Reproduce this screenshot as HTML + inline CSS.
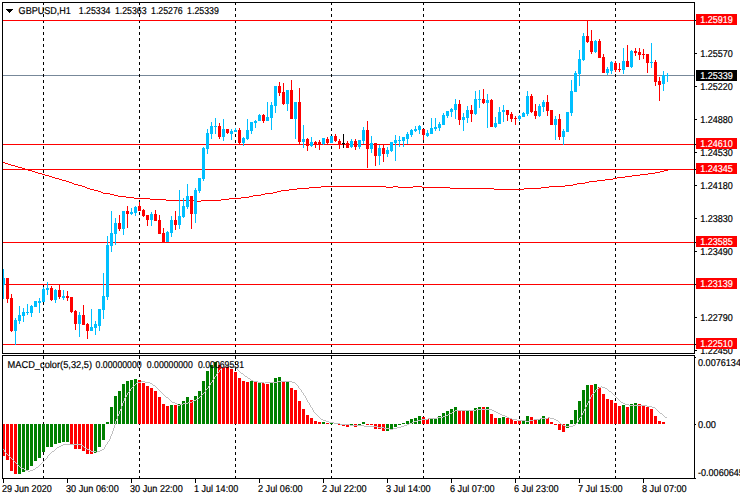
<!DOCTYPE html>
<html><head><meta charset="utf-8"><title>GBPUSD,H1</title>
<style>html,body{margin:0;padding:0;background:#fff;overflow:hidden}svg{display:block}text{font-family:"Liberation Sans",sans-serif;font-size:10px;fill:#000;stroke:#000;stroke-width:0.2px;text-rendering:geometricPrecision}.w{fill:#fff;stroke:#fff}</style>
</head><body>
<svg width="740" height="500" viewBox="0 0 740 500">
<rect x="0" y="0" width="740" height="500" fill="#fff"/>
<g shape-rendering="crispEdges">
<rect x="3" y="75" width="691" height="1" fill="#778899"/>
<line x1="43.5" y1="2" x2="43.5" y2="478" stroke="#000" stroke-width="1" stroke-dasharray="3 3"/>
<line x1="139.5" y1="2" x2="139.5" y2="478" stroke="#000" stroke-width="1" stroke-dasharray="3 3"/>
<line x1="235.5" y1="2" x2="235.5" y2="478" stroke="#000" stroke-width="1" stroke-dasharray="3 3"/>
<line x1="331.5" y1="2" x2="331.5" y2="478" stroke="#000" stroke-width="1" stroke-dasharray="3 3"/>
<line x1="423.5" y1="2" x2="423.5" y2="478" stroke="#000" stroke-width="1" stroke-dasharray="3 3"/>
<line x1="519.5" y1="2" x2="519.5" y2="478" stroke="#000" stroke-width="1" stroke-dasharray="3 3"/>
<line x1="615.5" y1="2" x2="615.5" y2="478" stroke="#000" stroke-width="1" stroke-dasharray="3 3"/>
<rect x="3" y="20" width="691" height="1" fill="#FF0000"/>
<rect x="3" y="144" width="691" height="1" fill="#FF0000"/>
<rect x="3" y="169" width="691" height="1" fill="#FF0000"/>
<rect x="3" y="242" width="691" height="1" fill="#FF0000"/>
<rect x="3" y="284" width="691" height="1" fill="#FF0000"/>
<rect x="3" y="344" width="691" height="1" fill="#FF0000"/>
<rect x="3" y="162" width="2" height="1" fill="#FF0000"/><rect x="5" y="163" width="3" height="1" fill="#FF0000"/><rect x="8" y="164" width="3" height="1" fill="#FF0000"/><rect x="11" y="165" width="4" height="1" fill="#FF0000"/><rect x="15" y="166" width="3" height="1" fill="#FF0000"/><rect x="18" y="167" width="4" height="1" fill="#FF0000"/><rect x="22" y="168" width="3" height="1" fill="#FF0000"/><rect x="25" y="169" width="3" height="1" fill="#FF0000"/><rect x="28" y="170" width="4" height="1" fill="#FF0000"/><rect x="32" y="171" width="3" height="1" fill="#FF0000"/><rect x="35" y="172" width="3" height="1" fill="#FF0000"/><rect x="38" y="173" width="4" height="1" fill="#FF0000"/><rect x="42" y="174" width="3" height="1" fill="#FF0000"/><rect x="45" y="175" width="4" height="1" fill="#FF0000"/><rect x="49" y="176" width="3" height="1" fill="#FF0000"/><rect x="52" y="177" width="3" height="1" fill="#FF0000"/><rect x="55" y="178" width="4" height="1" fill="#FF0000"/><rect x="59" y="179" width="3" height="1" fill="#FF0000"/><rect x="62" y="180" width="4" height="1" fill="#FF0000"/><rect x="66" y="181" width="3" height="1" fill="#FF0000"/><rect x="69" y="182" width="3" height="1" fill="#FF0000"/><rect x="72" y="183" width="2" height="1" fill="#FF0000"/><rect x="74" y="184" width="4" height="1" fill="#FF0000"/><rect x="78" y="185" width="4" height="1" fill="#FF0000"/><rect x="82" y="186" width="3" height="1" fill="#FF0000"/><rect x="85" y="187" width="2" height="1" fill="#FF0000"/><rect x="87" y="188" width="3" height="1" fill="#FF0000"/><rect x="90" y="189" width="4" height="1" fill="#FF0000"/><rect x="94" y="190" width="4" height="1" fill="#FF0000"/><rect x="98" y="191" width="3" height="1" fill="#FF0000"/><rect x="101" y="192" width="2" height="1" fill="#FF0000"/><rect x="103" y="193" width="7" height="1" fill="#FF0000"/><rect x="110" y="194" width="4" height="1" fill="#FF0000"/><rect x="114" y="195" width="4" height="1" fill="#FF0000"/><rect x="118" y="196" width="8" height="1" fill="#FF0000"/><rect x="126" y="197" width="8" height="1" fill="#FF0000"/><rect x="134" y="198" width="16" height="1" fill="#FF0000"/><rect x="150" y="199" width="16" height="1" fill="#FF0000"/><rect x="166" y="200" width="31" height="1" fill="#FF0000"/><rect x="197" y="201" width="4" height="1" fill="#FF0000"/><rect x="201" y="200" width="20" height="1" fill="#FF0000"/><rect x="221" y="199" width="8" height="1" fill="#FF0000"/><rect x="229" y="198" width="12" height="1" fill="#FF0000"/><rect x="241" y="197" width="8" height="1" fill="#FF0000"/><rect x="249" y="196" width="4" height="1" fill="#FF0000"/><rect x="253" y="195" width="8" height="1" fill="#FF0000"/><rect x="261" y="194" width="4" height="1" fill="#FF0000"/><rect x="265" y="193" width="8" height="1" fill="#FF0000"/><rect x="273" y="192" width="4" height="1" fill="#FF0000"/><rect x="277" y="191" width="4" height="1" fill="#FF0000"/><rect x="281" y="190" width="8" height="1" fill="#FF0000"/><rect x="289" y="189" width="8" height="1" fill="#FF0000"/><rect x="297" y="188" width="12" height="1" fill="#FF0000"/><rect x="309" y="187" width="12" height="1" fill="#FF0000"/><rect x="321" y="186" width="65" height="1" fill="#FF0000"/><rect x="386" y="187" width="7" height="1" fill="#FF0000"/><rect x="393" y="186" width="5" height="1" fill="#FF0000"/><rect x="398" y="187" width="15" height="1" fill="#FF0000"/><rect x="413" y="186" width="9" height="1" fill="#FF0000"/><rect x="422" y="187" width="28" height="1" fill="#FF0000"/><rect x="450" y="188" width="44" height="1" fill="#FF0000"/><rect x="494" y="189" width="30" height="1" fill="#FF0000"/><rect x="524" y="188" width="17" height="1" fill="#FF0000"/><rect x="541" y="187" width="8" height="1" fill="#FF0000"/><rect x="549" y="186" width="16" height="1" fill="#FF0000"/><rect x="565" y="185" width="8" height="1" fill="#FF0000"/><rect x="573" y="184" width="4" height="1" fill="#FF0000"/><rect x="577" y="183" width="8" height="1" fill="#FF0000"/><rect x="585" y="182" width="4" height="1" fill="#FF0000"/><rect x="589" y="181" width="8" height="1" fill="#FF0000"/><rect x="597" y="180" width="8" height="1" fill="#FF0000"/><rect x="605" y="179" width="8" height="1" fill="#FF0000"/><rect x="613" y="178" width="4" height="1" fill="#FF0000"/><rect x="617" y="177" width="8" height="1" fill="#FF0000"/><rect x="625" y="176" width="7" height="1" fill="#FF0000"/><rect x="632" y="175" width="8" height="1" fill="#FF0000"/><rect x="640" y="174" width="8" height="1" fill="#FF0000"/><rect x="648" y="173" width="7" height="1" fill="#FF0000"/><rect x="655" y="172" width="5" height="1" fill="#FF0000"/><rect x="660" y="171" width="4" height="1" fill="#FF0000"/><rect x="664" y="170" width="4" height="1" fill="#FF0000"/>
<rect x="3" y="269" width="1" height="30" fill="#00BFFF"/>
<rect x="3" y="278" width="2" height="7" fill="#00BFFF"/>
<rect x="7" y="278" width="1" height="25" fill="#FF0000"/>
<rect x="6" y="278" width="3" height="21" fill="#FF0000"/>
<rect x="11" y="294" width="1" height="38" fill="#FF0000"/>
<rect x="10" y="298" width="3" height="33" fill="#FF0000"/>
<rect x="15" y="318" width="1" height="27" fill="#00BFFF"/>
<rect x="14" y="320" width="3" height="11" fill="#00BFFF"/>
<rect x="19" y="306" width="1" height="18" fill="#00BFFF"/>
<rect x="18" y="315" width="3" height="6" fill="#00BFFF"/>
<rect x="23" y="308" width="1" height="14" fill="#00BFFF"/>
<rect x="22" y="312" width="3" height="4" fill="#00BFFF"/>
<rect x="27" y="304" width="1" height="11" fill="#00BFFF"/>
<rect x="26" y="312" width="3" height="1" fill="#00BFFF"/>
<rect x="31" y="305" width="1" height="12" fill="#00BFFF"/>
<rect x="30" y="306" width="3" height="7" fill="#00BFFF"/>
<rect x="35" y="301" width="1" height="6" fill="#00BFFF"/>
<rect x="34" y="301" width="3" height="6" fill="#00BFFF"/>
<rect x="39" y="298" width="1" height="15" fill="#00BFFF"/>
<rect x="38" y="301" width="3" height="2" fill="#00BFFF"/>
<rect x="43" y="287" width="1" height="15" fill="#00BFFF"/>
<rect x="42" y="289" width="3" height="13" fill="#00BFFF"/>
<rect x="47" y="282" width="1" height="13" fill="#00BFFF"/>
<rect x="46" y="288" width="3" height="2" fill="#00BFFF"/>
<rect x="51" y="286" width="1" height="15" fill="#FF0000"/>
<rect x="50" y="288" width="3" height="12" fill="#FF0000"/>
<rect x="55" y="289" width="1" height="14" fill="#00BFFF"/>
<rect x="54" y="290" width="3" height="10" fill="#00BFFF"/>
<rect x="59" y="284" width="1" height="15" fill="#FF0000"/>
<rect x="58" y="290" width="3" height="7" fill="#FF0000"/>
<rect x="63" y="290" width="1" height="10" fill="#00BFFF"/>
<rect x="62" y="296" width="3" height="2" fill="#00BFFF"/>
<rect x="67" y="291" width="1" height="10" fill="#FF0000"/>
<rect x="66" y="296" width="3" height="2" fill="#FF0000"/>
<rect x="71" y="297" width="1" height="16" fill="#FF0000"/>
<rect x="70" y="297" width="3" height="15" fill="#FF0000"/>
<rect x="75" y="310" width="1" height="20" fill="#FF0000"/>
<rect x="74" y="311" width="3" height="13" fill="#FF0000"/>
<rect x="79" y="312" width="1" height="25" fill="#00BFFF"/>
<rect x="78" y="315" width="3" height="9" fill="#00BFFF"/>
<rect x="83" y="305" width="1" height="20" fill="#FF0000"/>
<rect x="82" y="315" width="3" height="10" fill="#FF0000"/>
<rect x="87" y="323" width="1" height="16" fill="#FF0000"/>
<rect x="86" y="324" width="3" height="7" fill="#FF0000"/>
<rect x="91" y="309" width="1" height="22" fill="#00BFFF"/>
<rect x="90" y="327" width="3" height="4" fill="#00BFFF"/>
<rect x="95" y="321" width="1" height="14" fill="#00BFFF"/>
<rect x="94" y="324" width="3" height="4" fill="#00BFFF"/>
<rect x="99" y="309" width="1" height="22" fill="#00BFFF"/>
<rect x="98" y="309" width="3" height="17" fill="#00BFFF"/>
<rect x="103" y="273" width="1" height="46" fill="#00BFFF"/>
<rect x="102" y="296" width="3" height="14" fill="#00BFFF"/>
<rect x="107" y="236" width="1" height="64" fill="#00BFFF"/>
<rect x="106" y="245" width="3" height="52" fill="#00BFFF"/>
<rect x="111" y="211" width="1" height="41" fill="#00BFFF"/>
<rect x="110" y="233" width="3" height="13" fill="#00BFFF"/>
<rect x="115" y="218" width="1" height="27" fill="#00BFFF"/>
<rect x="114" y="223" width="3" height="11" fill="#00BFFF"/>
<rect x="119" y="215" width="1" height="16" fill="#FF0000"/>
<rect x="118" y="223" width="3" height="6" fill="#FF0000"/>
<rect x="123" y="211" width="1" height="24" fill="#00BFFF"/>
<rect x="122" y="211" width="3" height="18" fill="#00BFFF"/>
<rect x="127" y="206" width="1" height="22" fill="#FF0000"/>
<rect x="126" y="211" width="3" height="3" fill="#FF0000"/>
<rect x="131" y="208" width="1" height="7" fill="#00BFFF"/>
<rect x="130" y="212" width="3" height="2" fill="#00BFFF"/>
<rect x="135" y="206" width="1" height="10" fill="#00BFFF"/>
<rect x="134" y="207" width="3" height="6" fill="#00BFFF"/>
<rect x="139" y="202" width="1" height="9" fill="#FF0000"/>
<rect x="138" y="206" width="3" height="5" fill="#FF0000"/>
<rect x="143" y="209" width="1" height="8" fill="#FF0000"/>
<rect x="142" y="210" width="3" height="6" fill="#FF0000"/>
<rect x="147" y="215" width="1" height="11" fill="#FF0000"/>
<rect x="146" y="215" width="3" height="5" fill="#FF0000"/>
<rect x="151" y="212" width="1" height="14" fill="#00BFFF"/>
<rect x="150" y="214" width="3" height="6" fill="#00BFFF"/>
<rect x="155" y="210" width="1" height="11" fill="#FF0000"/>
<rect x="154" y="214" width="3" height="7" fill="#FF0000"/>
<rect x="159" y="215" width="1" height="19" fill="#FF0000"/>
<rect x="158" y="220" width="3" height="14" fill="#FF0000"/>
<rect x="163" y="228" width="1" height="14" fill="#FF0000"/>
<rect x="162" y="233" width="3" height="9" fill="#FF0000"/>
<rect x="167" y="231" width="1" height="11" fill="#00BFFF"/>
<rect x="166" y="232" width="3" height="10" fill="#00BFFF"/>
<rect x="171" y="216" width="1" height="21" fill="#00BFFF"/>
<rect x="170" y="220" width="3" height="13" fill="#00BFFF"/>
<rect x="175" y="211" width="1" height="19" fill="#FF0000"/>
<rect x="174" y="220" width="3" height="5" fill="#FF0000"/>
<rect x="179" y="190" width="1" height="39" fill="#00BFFF"/>
<rect x="178" y="216" width="3" height="9" fill="#00BFFF"/>
<rect x="183" y="198" width="1" height="20" fill="#00BFFF"/>
<rect x="182" y="206" width="3" height="11" fill="#00BFFF"/>
<rect x="187" y="184" width="1" height="25" fill="#00BFFF"/>
<rect x="186" y="196" width="3" height="11" fill="#00BFFF"/>
<rect x="191" y="196" width="1" height="33" fill="#FF0000"/>
<rect x="190" y="196" width="3" height="18" fill="#FF0000"/>
<rect x="195" y="188" width="1" height="35" fill="#00BFFF"/>
<rect x="194" y="190" width="3" height="24" fill="#00BFFF"/>
<rect x="199" y="178" width="1" height="15" fill="#00BFFF"/>
<rect x="198" y="178" width="3" height="13" fill="#00BFFF"/>
<rect x="203" y="147" width="1" height="34" fill="#00BFFF"/>
<rect x="202" y="148" width="3" height="31" fill="#00BFFF"/>
<rect x="207" y="129" width="1" height="25" fill="#00BFFF"/>
<rect x="206" y="133" width="3" height="16" fill="#00BFFF"/>
<rect x="211" y="122" width="1" height="17" fill="#00BFFF"/>
<rect x="210" y="126" width="3" height="8" fill="#00BFFF"/>
<rect x="215" y="118" width="1" height="16" fill="#00BFFF"/>
<rect x="214" y="126" width="3" height="1" fill="#00BFFF"/>
<rect x="219" y="123" width="1" height="16" fill="#FF0000"/>
<rect x="218" y="126" width="3" height="11" fill="#FF0000"/>
<rect x="223" y="119" width="1" height="22" fill="#00BFFF"/>
<rect x="222" y="129" width="3" height="8" fill="#00BFFF"/>
<rect x="227" y="129" width="1" height="5" fill="#FF0000"/>
<rect x="226" y="129" width="3" height="4" fill="#FF0000"/>
<rect x="231" y="129" width="1" height="11" fill="#00BFFF"/>
<rect x="230" y="131" width="3" height="3" fill="#00BFFF"/>
<rect x="235" y="128" width="1" height="4" fill="#00BFFF"/>
<rect x="234" y="130" width="3" height="2" fill="#00BFFF"/>
<rect x="239" y="128" width="1" height="16" fill="#FF0000"/>
<rect x="238" y="130" width="3" height="13" fill="#FF0000"/>
<rect x="243" y="137" width="1" height="9" fill="#00BFFF"/>
<rect x="242" y="138" width="3" height="5" fill="#00BFFF"/>
<rect x="247" y="119" width="1" height="21" fill="#00BFFF"/>
<rect x="246" y="130" width="3" height="9" fill="#00BFFF"/>
<rect x="251" y="122" width="1" height="12" fill="#00BFFF"/>
<rect x="250" y="122" width="3" height="9" fill="#00BFFF"/>
<rect x="255" y="120" width="1" height="8" fill="#00BFFF"/>
<rect x="254" y="121" width="3" height="2" fill="#00BFFF"/>
<rect x="259" y="114" width="1" height="7" fill="#00BFFF"/>
<rect x="258" y="115" width="3" height="6" fill="#00BFFF"/>
<rect x="263" y="114" width="1" height="9" fill="#FF0000"/>
<rect x="262" y="115" width="3" height="6" fill="#FF0000"/>
<rect x="267" y="102" width="1" height="19" fill="#00BFFF"/>
<rect x="266" y="117" width="3" height="4" fill="#00BFFF"/>
<rect x="271" y="102" width="1" height="28" fill="#00BFFF"/>
<rect x="270" y="105" width="3" height="13" fill="#00BFFF"/>
<rect x="275" y="86" width="1" height="27" fill="#00BFFF"/>
<rect x="274" y="86" width="3" height="20" fill="#00BFFF"/>
<rect x="279" y="82" width="1" height="14" fill="#FF0000"/>
<rect x="278" y="86" width="3" height="7" fill="#FF0000"/>
<rect x="283" y="83" width="1" height="22" fill="#FF0000"/>
<rect x="282" y="92" width="3" height="12" fill="#FF0000"/>
<rect x="287" y="90" width="1" height="21" fill="#00BFFF"/>
<rect x="286" y="90" width="3" height="14" fill="#00BFFF"/>
<rect x="291" y="80" width="1" height="39" fill="#FF0000"/>
<rect x="290" y="90" width="3" height="29" fill="#FF0000"/>
<rect x="295" y="102" width="1" height="37" fill="#00BFFF"/>
<rect x="294" y="102" width="3" height="17" fill="#00BFFF"/>
<rect x="299" y="88" width="1" height="56" fill="#FF0000"/>
<rect x="298" y="102" width="3" height="40" fill="#FF0000"/>
<rect x="303" y="125" width="1" height="23" fill="#00BFFF"/>
<rect x="302" y="139" width="3" height="3" fill="#00BFFF"/>
<rect x="307" y="138" width="1" height="13" fill="#FF0000"/>
<rect x="306" y="139" width="3" height="7" fill="#FF0000"/>
<rect x="311" y="137" width="1" height="10" fill="#00BFFF"/>
<rect x="310" y="142" width="3" height="4" fill="#00BFFF"/>
<rect x="315" y="141" width="1" height="7" fill="#FF0000"/>
<rect x="314" y="142" width="3" height="3" fill="#FF0000"/>
<rect x="319" y="140" width="1" height="10" fill="#FF0000"/>
<rect x="318" y="142" width="3" height="3" fill="#FF0000"/>
<rect x="323" y="138" width="1" height="7" fill="#00BFFF"/>
<rect x="322" y="138" width="3" height="6" fill="#00BFFF"/>
<rect x="327" y="137" width="1" height="7" fill="#FF0000"/>
<rect x="326" y="139" width="3" height="4" fill="#FF0000"/>
<rect x="331" y="136" width="1" height="7" fill="#00BFFF"/>
<rect x="330" y="136" width="3" height="7" fill="#00BFFF"/>
<rect x="335" y="134" width="1" height="8" fill="#FF0000"/>
<rect x="334" y="136" width="3" height="5" fill="#FF0000"/>
<rect x="339" y="139" width="1" height="10" fill="#FF0000"/>
<rect x="338" y="141" width="3" height="4" fill="#FF0000"/>
<rect x="343" y="134" width="1" height="14" fill="#000000"/>
<rect x="342" y="143" width="3" height="1" fill="#000000"/>
<rect x="347" y="141" width="1" height="7" fill="#FF0000"/>
<rect x="346" y="143" width="3" height="5" fill="#FF0000"/>
<rect x="351" y="139" width="1" height="9" fill="#00BFFF"/>
<rect x="350" y="141" width="3" height="6" fill="#00BFFF"/>
<rect x="355" y="139" width="1" height="11" fill="#FF0000"/>
<rect x="354" y="141" width="3" height="6" fill="#FF0000"/>
<rect x="359" y="140" width="1" height="9" fill="#00BFFF"/>
<rect x="358" y="140" width="3" height="7" fill="#00BFFF"/>
<rect x="363" y="127" width="1" height="17" fill="#00BFFF"/>
<rect x="362" y="130" width="3" height="11" fill="#00BFFF"/>
<rect x="367" y="121" width="1" height="47" fill="#FF0000"/>
<rect x="366" y="130" width="3" height="19" fill="#FF0000"/>
<rect x="371" y="136" width="1" height="17" fill="#00BFFF"/>
<rect x="370" y="143" width="3" height="6" fill="#00BFFF"/>
<rect x="375" y="143" width="1" height="23" fill="#FF0000"/>
<rect x="374" y="143" width="3" height="13" fill="#FF0000"/>
<rect x="379" y="145" width="1" height="20" fill="#00BFFF"/>
<rect x="378" y="148" width="3" height="8" fill="#00BFFF"/>
<rect x="383" y="144" width="1" height="18" fill="#FF0000"/>
<rect x="382" y="148" width="3" height="6" fill="#FF0000"/>
<rect x="387" y="147" width="1" height="10" fill="#00BFFF"/>
<rect x="386" y="150" width="3" height="4" fill="#00BFFF"/>
<rect x="391" y="142" width="1" height="10" fill="#00BFFF"/>
<rect x="390" y="142" width="3" height="9" fill="#00BFFF"/>
<rect x="395" y="135" width="1" height="26" fill="#00BFFF"/>
<rect x="394" y="140" width="3" height="3" fill="#00BFFF"/>
<rect x="399" y="136" width="1" height="11" fill="#00BFFF"/>
<rect x="398" y="140" width="3" height="1" fill="#00BFFF"/>
<rect x="403" y="137" width="1" height="10" fill="#00BFFF"/>
<rect x="402" y="137" width="3" height="4" fill="#00BFFF"/>
<rect x="407" y="132" width="1" height="12" fill="#00BFFF"/>
<rect x="406" y="134" width="3" height="5" fill="#00BFFF"/>
<rect x="411" y="129" width="1" height="8" fill="#00BFFF"/>
<rect x="410" y="130" width="3" height="5" fill="#00BFFF"/>
<rect x="415" y="126" width="1" height="6" fill="#00BFFF"/>
<rect x="414" y="129" width="3" height="2" fill="#00BFFF"/>
<rect x="419" y="125" width="1" height="9" fill="#00BFFF"/>
<rect x="418" y="126" width="3" height="4" fill="#00BFFF"/>
<rect x="423" y="129" width="1" height="11" fill="#FF0000"/>
<rect x="422" y="129" width="3" height="6" fill="#FF0000"/>
<rect x="427" y="130" width="1" height="7" fill="#00BFFF"/>
<rect x="426" y="133" width="3" height="3" fill="#00BFFF"/>
<rect x="431" y="118" width="1" height="16" fill="#00BFFF"/>
<rect x="430" y="128" width="3" height="6" fill="#00BFFF"/>
<rect x="435" y="118" width="1" height="13" fill="#00BFFF"/>
<rect x="434" y="127" width="3" height="2" fill="#00BFFF"/>
<rect x="439" y="122" width="1" height="9" fill="#00BFFF"/>
<rect x="438" y="124" width="3" height="4" fill="#00BFFF"/>
<rect x="443" y="113" width="1" height="12" fill="#00BFFF"/>
<rect x="442" y="115" width="3" height="10" fill="#00BFFF"/>
<rect x="447" y="111" width="1" height="7" fill="#00BFFF"/>
<rect x="446" y="111" width="3" height="5" fill="#00BFFF"/>
<rect x="451" y="108" width="1" height="9" fill="#00BFFF"/>
<rect x="450" y="109" width="3" height="3" fill="#00BFFF"/>
<rect x="455" y="99" width="1" height="20" fill="#00BFFF"/>
<rect x="454" y="104" width="3" height="6" fill="#00BFFF"/>
<rect x="459" y="100" width="1" height="25" fill="#FF0000"/>
<rect x="458" y="104" width="3" height="16" fill="#FF0000"/>
<rect x="463" y="113" width="1" height="18" fill="#00BFFF"/>
<rect x="462" y="117" width="3" height="3" fill="#00BFFF"/>
<rect x="467" y="106" width="1" height="17" fill="#00BFFF"/>
<rect x="466" y="110" width="3" height="8" fill="#00BFFF"/>
<rect x="471" y="105" width="1" height="17" fill="#FF0000"/>
<rect x="470" y="110" width="3" height="4" fill="#FF0000"/>
<rect x="475" y="91" width="1" height="24" fill="#00BFFF"/>
<rect x="474" y="99" width="3" height="15" fill="#00BFFF"/>
<rect x="479" y="90" width="1" height="18" fill="#00BFFF"/>
<rect x="478" y="99" width="3" height="1" fill="#00BFFF"/>
<rect x="483" y="89" width="1" height="15" fill="#FF0000"/>
<rect x="482" y="99" width="3" height="4" fill="#FF0000"/>
<rect x="487" y="94" width="1" height="34" fill="#00BFFF"/>
<rect x="486" y="100" width="3" height="3" fill="#00BFFF"/>
<rect x="491" y="99" width="1" height="28" fill="#FF0000"/>
<rect x="490" y="100" width="3" height="27" fill="#FF0000"/>
<rect x="495" y="117" width="1" height="11" fill="#00BFFF"/>
<rect x="494" y="123" width="3" height="4" fill="#00BFFF"/>
<rect x="499" y="107" width="1" height="17" fill="#00BFFF"/>
<rect x="498" y="112" width="3" height="12" fill="#00BFFF"/>
<rect x="503" y="105" width="1" height="17" fill="#00BFFF"/>
<rect x="502" y="110" width="3" height="2" fill="#00BFFF"/>
<rect x="507" y="110" width="1" height="11" fill="#FF0000"/>
<rect x="506" y="110" width="3" height="5" fill="#FF0000"/>
<rect x="511" y="112" width="1" height="10" fill="#FF0000"/>
<rect x="510" y="114" width="3" height="5" fill="#FF0000"/>
<rect x="515" y="116" width="1" height="9" fill="#FF0000"/>
<rect x="514" y="118" width="3" height="1" fill="#FF0000"/>
<rect x="519" y="115" width="1" height="6" fill="#00BFFF"/>
<rect x="518" y="116" width="3" height="3" fill="#00BFFF"/>
<rect x="523" y="112" width="1" height="5" fill="#00BFFF"/>
<rect x="522" y="113" width="3" height="4" fill="#00BFFF"/>
<rect x="527" y="91" width="1" height="25" fill="#00BFFF"/>
<rect x="526" y="96" width="3" height="18" fill="#00BFFF"/>
<rect x="531" y="94" width="1" height="19" fill="#FF0000"/>
<rect x="530" y="96" width="3" height="16" fill="#FF0000"/>
<rect x="535" y="104" width="1" height="15" fill="#FF0000"/>
<rect x="534" y="111" width="3" height="5" fill="#FF0000"/>
<rect x="539" y="104" width="1" height="13" fill="#00BFFF"/>
<rect x="538" y="106" width="3" height="10" fill="#00BFFF"/>
<rect x="543" y="100" width="1" height="12" fill="#00BFFF"/>
<rect x="542" y="102" width="3" height="5" fill="#00BFFF"/>
<rect x="547" y="95" width="1" height="21" fill="#FF0000"/>
<rect x="546" y="102" width="3" height="9" fill="#FF0000"/>
<rect x="551" y="110" width="1" height="15" fill="#FF0000"/>
<rect x="550" y="110" width="3" height="15" fill="#FF0000"/>
<rect x="555" y="116" width="1" height="24" fill="#00BFFF"/>
<rect x="554" y="119" width="3" height="6" fill="#00BFFF"/>
<rect x="559" y="114" width="1" height="26" fill="#FF0000"/>
<rect x="558" y="119" width="3" height="18" fill="#FF0000"/>
<rect x="563" y="129" width="1" height="16" fill="#00BFFF"/>
<rect x="562" y="131" width="3" height="6" fill="#00BFFF"/>
<rect x="567" y="112" width="1" height="20" fill="#00BFFF"/>
<rect x="566" y="112" width="3" height="20" fill="#00BFFF"/>
<rect x="571" y="80" width="1" height="36" fill="#00BFFF"/>
<rect x="570" y="91" width="3" height="22" fill="#00BFFF"/>
<rect x="575" y="71" width="1" height="21" fill="#00BFFF"/>
<rect x="574" y="73" width="3" height="19" fill="#00BFFF"/>
<rect x="579" y="50" width="1" height="36" fill="#00BFFF"/>
<rect x="578" y="59" width="3" height="15" fill="#00BFFF"/>
<rect x="583" y="33" width="1" height="28" fill="#00BFFF"/>
<rect x="582" y="36" width="3" height="24" fill="#00BFFF"/>
<rect x="587" y="20" width="1" height="23" fill="#FF0000"/>
<rect x="586" y="36" width="3" height="6" fill="#FF0000"/>
<rect x="591" y="30" width="1" height="24" fill="#FF0000"/>
<rect x="590" y="41" width="3" height="11" fill="#FF0000"/>
<rect x="595" y="40" width="1" height="13" fill="#00BFFF"/>
<rect x="594" y="41" width="3" height="11" fill="#00BFFF"/>
<rect x="599" y="39" width="1" height="19" fill="#FF0000"/>
<rect x="598" y="41" width="3" height="17" fill="#FF0000"/>
<rect x="603" y="54" width="1" height="19" fill="#FF0000"/>
<rect x="602" y="57" width="3" height="16" fill="#FF0000"/>
<rect x="607" y="67" width="1" height="8" fill="#00BFFF"/>
<rect x="606" y="69" width="3" height="4" fill="#00BFFF"/>
<rect x="611" y="61" width="1" height="13" fill="#00BFFF"/>
<rect x="610" y="62" width="3" height="9" fill="#00BFFF"/>
<rect x="615" y="61" width="1" height="11" fill="#FF0000"/>
<rect x="614" y="63" width="3" height="7" fill="#FF0000"/>
<rect x="619" y="63" width="1" height="9" fill="#FF0000"/>
<rect x="618" y="69" width="3" height="1" fill="#FF0000"/>
<rect x="623" y="48" width="1" height="26" fill="#00BFFF"/>
<rect x="622" y="61" width="3" height="9" fill="#00BFFF"/>
<rect x="627" y="45" width="1" height="22" fill="#FF0000"/>
<rect x="626" y="61" width="3" height="6" fill="#FF0000"/>
<rect x="631" y="50" width="1" height="18" fill="#00BFFF"/>
<rect x="630" y="51" width="3" height="16" fill="#00BFFF"/>
<rect x="635" y="48" width="1" height="8" fill="#FF0000"/>
<rect x="634" y="51" width="3" height="2" fill="#FF0000"/>
<rect x="639" y="48" width="1" height="12" fill="#FF0000"/>
<rect x="638" y="52" width="3" height="3" fill="#FF0000"/>
<rect x="643" y="49" width="1" height="10" fill="#FF0000"/>
<rect x="642" y="54" width="3" height="1" fill="#FF0000"/>
<rect x="647" y="54" width="1" height="19" fill="#FF0000"/>
<rect x="646" y="54" width="3" height="9" fill="#FF0000"/>
<rect x="651" y="43" width="1" height="25" fill="#00BFFF"/>
<rect x="650" y="62" width="3" height="1" fill="#00BFFF"/>
<rect x="655" y="60" width="1" height="26" fill="#FF0000"/>
<rect x="654" y="62" width="3" height="20" fill="#FF0000"/>
<rect x="659" y="77" width="1" height="24" fill="#FF0000"/>
<rect x="658" y="81" width="3" height="4" fill="#FF0000"/>
<rect x="663" y="71" width="1" height="20" fill="#00BFFF"/>
<rect x="662" y="75" width="3" height="9" fill="#00BFFF"/>
<rect x="667" y="73" width="1" height="9" fill="#00BFFF"/>
<rect x="666" y="75" width="3" height="1" fill="#00BFFF"/>
</g>
<g shape-rendering="crispEdges">
<rect x="3" y="424" width="2" height="32" fill="#FF0000"/>
<rect x="6" y="424" width="3" height="36" fill="#FF0000"/>
<rect x="10" y="424" width="3" height="47" fill="#FF0000"/>
<rect x="14" y="424" width="3" height="50" fill="#FF0000"/>
<rect x="18" y="424" width="3" height="50" fill="#008000"/>
<rect x="22" y="424" width="3" height="48" fill="#008000"/>
<rect x="26" y="424" width="3" height="46" fill="#008000"/>
<rect x="30" y="424" width="3" height="42" fill="#008000"/>
<rect x="34" y="424" width="3" height="37" fill="#008000"/>
<rect x="38" y="424" width="3" height="34" fill="#008000"/>
<rect x="42" y="424" width="3" height="28" fill="#008000"/>
<rect x="46" y="424" width="3" height="23" fill="#008000"/>
<rect x="50" y="424" width="3" height="23" fill="#008000"/>
<rect x="54" y="424" width="3" height="20" fill="#008000"/>
<rect x="58" y="424" width="3" height="19" fill="#008000"/>
<rect x="62" y="424" width="3" height="18" fill="#008000"/>
<rect x="66" y="424" width="3" height="18" fill="#008000"/>
<rect x="70" y="424" width="3" height="20" fill="#FF0000"/>
<rect x="74" y="424" width="3" height="25" fill="#FF0000"/>
<rect x="78" y="424" width="3" height="25" fill="#FF0000"/>
<rect x="82" y="424" width="3" height="27" fill="#FF0000"/>
<rect x="86" y="424" width="3" height="30" fill="#FF0000"/>
<rect x="90" y="424" width="3" height="30" fill="#FF0000"/>
<rect x="94" y="424" width="3" height="29" fill="#008000"/>
<rect x="98" y="424" width="3" height="23" fill="#008000"/>
<rect x="102" y="424" width="3" height="16" fill="#008000"/>
<rect x="106" y="422" width="3" height="2" fill="#008000"/>
<rect x="110" y="407" width="3" height="17" fill="#008000"/>
<rect x="114" y="396" width="3" height="28" fill="#008000"/>
<rect x="118" y="391" width="3" height="33" fill="#008000"/>
<rect x="122" y="384" width="3" height="40" fill="#008000"/>
<rect x="126" y="381" width="3" height="43" fill="#008000"/>
<rect x="130" y="380" width="3" height="44" fill="#008000"/>
<rect x="134" y="379" width="3" height="45" fill="#008000"/>
<rect x="138" y="380" width="3" height="44" fill="#FF0000"/>
<rect x="142" y="383" width="3" height="41" fill="#FF0000"/>
<rect x="146" y="386" width="3" height="38" fill="#FF0000"/>
<rect x="150" y="388" width="3" height="36" fill="#FF0000"/>
<rect x="154" y="391" width="3" height="33" fill="#FF0000"/>
<rect x="158" y="397" width="3" height="27" fill="#FF0000"/>
<rect x="162" y="404" width="3" height="20" fill="#FF0000"/>
<rect x="166" y="406" width="3" height="18" fill="#FF0000"/>
<rect x="170" y="405" width="3" height="19" fill="#008000"/>
<rect x="174" y="405" width="3" height="19" fill="#FF0000"/>
<rect x="178" y="404" width="3" height="20" fill="#008000"/>
<rect x="182" y="401" width="3" height="23" fill="#008000"/>
<rect x="186" y="397" width="3" height="27" fill="#008000"/>
<rect x="190" y="400" width="3" height="24" fill="#FF0000"/>
<rect x="194" y="396" width="3" height="28" fill="#008000"/>
<rect x="198" y="391" width="3" height="33" fill="#008000"/>
<rect x="202" y="381" width="3" height="43" fill="#008000"/>
<rect x="206" y="371" width="3" height="53" fill="#008000"/>
<rect x="210" y="365" width="3" height="59" fill="#008000"/>
<rect x="214" y="362" width="3" height="62" fill="#008000"/>
<rect x="218" y="365" width="3" height="59" fill="#FF0000"/>
<rect x="222" y="367" width="3" height="57" fill="#FF0000"/>
<rect x="226" y="367" width="3" height="57" fill="#FF0000"/>
<rect x="230" y="369" width="3" height="55" fill="#FF0000"/>
<rect x="234" y="372" width="3" height="52" fill="#FF0000"/>
<rect x="238" y="378" width="3" height="46" fill="#FF0000"/>
<rect x="242" y="381" width="3" height="43" fill="#FF0000"/>
<rect x="246" y="382" width="3" height="42" fill="#FF0000"/>
<rect x="250" y="381" width="3" height="43" fill="#008000"/>
<rect x="254" y="382" width="3" height="42" fill="#FF0000"/>
<rect x="258" y="382" width="3" height="42" fill="#008000"/>
<rect x="262" y="383" width="3" height="41" fill="#FF0000"/>
<rect x="266" y="384" width="3" height="40" fill="#FF0000"/>
<rect x="270" y="383" width="3" height="41" fill="#008000"/>
<rect x="274" y="378" width="3" height="46" fill="#008000"/>
<rect x="278" y="377" width="3" height="47" fill="#008000"/>
<rect x="282" y="381" width="3" height="43" fill="#FF0000"/>
<rect x="286" y="381" width="3" height="43" fill="#008000"/>
<rect x="290" y="388" width="3" height="36" fill="#FF0000"/>
<rect x="294" y="390" width="3" height="34" fill="#FF0000"/>
<rect x="298" y="401" width="3" height="23" fill="#FF0000"/>
<rect x="302" y="409" width="3" height="15" fill="#FF0000"/>
<rect x="306" y="415" width="3" height="9" fill="#FF0000"/>
<rect x="310" y="418" width="3" height="6" fill="#FF0000"/>
<rect x="314" y="421" width="3" height="3" fill="#FF0000"/>
<rect x="318" y="422" width="3" height="2" fill="#FF0000"/>
<rect x="322" y="422" width="3" height="2" fill="#008000"/>
<rect x="326" y="423" width="3" height="1" fill="#FF0000"/>
<rect x="330" y="423" width="3" height="1" fill="#008000"/>
<rect x="338" y="424" width="3" height="1" fill="#FF0000"/>
<rect x="342" y="424" width="3" height="2" fill="#FF0000"/>
<rect x="346" y="424" width="3" height="3" fill="#FF0000"/>
<rect x="350" y="424" width="3" height="1" fill="#008000"/>
<rect x="354" y="424" width="3" height="3" fill="#FF0000"/>
<rect x="358" y="424" width="3" height="2" fill="#008000"/>
<rect x="362" y="422" width="3" height="2" fill="#008000"/>
<rect x="366" y="424" width="3" height="1" fill="#FF0000"/>
<rect x="370" y="424" width="3" height="1" fill="#FF0000"/>
<rect x="374" y="424" width="3" height="5" fill="#FF0000"/>
<rect x="378" y="424" width="3" height="5" fill="#FF0000"/>
<rect x="382" y="424" width="3" height="7" fill="#FF0000"/>
<rect x="386" y="424" width="3" height="7" fill="#008000"/>
<rect x="390" y="424" width="3" height="5" fill="#008000"/>
<rect x="394" y="424" width="3" height="3" fill="#008000"/>
<rect x="398" y="424" width="3" height="1" fill="#008000"/>
<rect x="402" y="423" width="3" height="1" fill="#008000"/>
<rect x="406" y="421" width="3" height="3" fill="#008000"/>
<rect x="410" y="419" width="3" height="5" fill="#008000"/>
<rect x="414" y="418" width="3" height="6" fill="#008000"/>
<rect x="418" y="416" width="3" height="8" fill="#008000"/>
<rect x="422" y="417" width="3" height="7" fill="#FF0000"/>
<rect x="426" y="419" width="3" height="5" fill="#FF0000"/>
<rect x="430" y="418" width="3" height="6" fill="#008000"/>
<rect x="434" y="418" width="3" height="6" fill="#008000"/>
<rect x="438" y="416" width="3" height="8" fill="#008000"/>
<rect x="442" y="413" width="3" height="11" fill="#008000"/>
<rect x="446" y="411" width="3" height="13" fill="#008000"/>
<rect x="450" y="409" width="3" height="15" fill="#008000"/>
<rect x="454" y="407" width="3" height="17" fill="#008000"/>
<rect x="458" y="411" width="3" height="13" fill="#FF0000"/>
<rect x="462" y="411" width="3" height="13" fill="#FF0000"/>
<rect x="466" y="411" width="3" height="13" fill="#008000"/>
<rect x="470" y="411" width="3" height="13" fill="#FF0000"/>
<rect x="474" y="408" width="3" height="16" fill="#008000"/>
<rect x="478" y="407" width="3" height="17" fill="#008000"/>
<rect x="482" y="407" width="3" height="17" fill="#FF0000"/>
<rect x="486" y="407" width="3" height="17" fill="#008000"/>
<rect x="490" y="414" width="3" height="10" fill="#FF0000"/>
<rect x="494" y="418" width="3" height="6" fill="#FF0000"/>
<rect x="498" y="418" width="3" height="6" fill="#008000"/>
<rect x="502" y="417" width="3" height="7" fill="#008000"/>
<rect x="506" y="418" width="3" height="6" fill="#FF0000"/>
<rect x="510" y="419" width="3" height="5" fill="#FF0000"/>
<rect x="514" y="421" width="3" height="3" fill="#FF0000"/>
<rect x="518" y="421" width="3" height="3" fill="#FF0000"/>
<rect x="522" y="421" width="3" height="3" fill="#008000"/>
<rect x="526" y="416" width="3" height="8" fill="#008000"/>
<rect x="530" y="417" width="3" height="7" fill="#FF0000"/>
<rect x="534" y="420" width="3" height="4" fill="#FF0000"/>
<rect x="538" y="419" width="3" height="5" fill="#008000"/>
<rect x="542" y="416" width="3" height="8" fill="#008000"/>
<rect x="546" y="418" width="3" height="6" fill="#FF0000"/>
<rect x="550" y="422" width="3" height="2" fill="#FF0000"/>
<rect x="554" y="424" width="3" height="1" fill="#FF0000"/>
<rect x="558" y="424" width="3" height="6" fill="#FF0000"/>
<rect x="562" y="424" width="3" height="8" fill="#FF0000"/>
<rect x="566" y="424" width="3" height="4" fill="#008000"/>
<rect x="570" y="420" width="3" height="4" fill="#008000"/>
<rect x="574" y="410" width="3" height="14" fill="#008000"/>
<rect x="578" y="401" width="3" height="23" fill="#008000"/>
<rect x="582" y="390" width="3" height="34" fill="#008000"/>
<rect x="586" y="385" width="3" height="39" fill="#008000"/>
<rect x="590" y="385" width="3" height="39" fill="#FF0000"/>
<rect x="594" y="384" width="3" height="40" fill="#008000"/>
<rect x="598" y="387" width="3" height="37" fill="#FF0000"/>
<rect x="602" y="394" width="3" height="30" fill="#FF0000"/>
<rect x="606" y="399" width="3" height="25" fill="#FF0000"/>
<rect x="610" y="400" width="3" height="24" fill="#FF0000"/>
<rect x="614" y="403" width="3" height="21" fill="#FF0000"/>
<rect x="618" y="406" width="3" height="18" fill="#FF0000"/>
<rect x="622" y="405" width="3" height="19" fill="#008000"/>
<rect x="626" y="407" width="3" height="17" fill="#FF0000"/>
<rect x="630" y="404" width="3" height="20" fill="#008000"/>
<rect x="634" y="403" width="3" height="21" fill="#008000"/>
<rect x="638" y="404" width="3" height="20" fill="#FF0000"/>
<rect x="642" y="406" width="3" height="18" fill="#FF0000"/>
<rect x="646" y="407" width="3" height="17" fill="#FF0000"/>
<rect x="650" y="409" width="3" height="15" fill="#FF0000"/>
<rect x="654" y="416" width="3" height="8" fill="#FF0000"/>
<rect x="658" y="421" width="3" height="3" fill="#FF0000"/>
<rect x="662" y="422" width="3" height="2" fill="#FF0000"/>
</g>
<g shape-rendering="crispEdges"><rect x="3" y="449" width="1" height="1" fill="#C0C0C0"/><rect x="4" y="450" width="1" height="1" fill="#C0C0C0"/><rect x="4" y="451" width="1" height="1" fill="#C0C0C0"/><rect x="5" y="452" width="1" height="1" fill="#C0C0C0"/><rect x="6" y="453" width="1" height="1" fill="#C0C0C0"/><rect x="7" y="454" width="1" height="1" fill="#C0C0C0"/><rect x="8" y="455" width="1" height="1" fill="#C0C0C0"/><rect x="9" y="456" width="1" height="1" fill="#C0C0C0"/><rect x="10" y="457" width="1" height="1" fill="#C0C0C0"/><rect x="11" y="458" width="1" height="1" fill="#C0C0C0"/><rect x="12" y="459" width="1" height="1" fill="#C0C0C0"/><rect x="13" y="460" width="1" height="1" fill="#C0C0C0"/><rect x="14" y="461" width="1" height="1" fill="#C0C0C0"/><rect x="15" y="462" width="1" height="1" fill="#C0C0C0"/><rect x="16" y="463" width="1" height="1" fill="#C0C0C0"/><rect x="17" y="464" width="1" height="1" fill="#C0C0C0"/><rect x="18" y="465" width="1" height="1" fill="#C0C0C0"/><rect x="19" y="466" width="1" height="1" fill="#C0C0C0"/><rect x="20" y="467" width="2" height="1" fill="#C0C0C0"/><rect x="22" y="468" width="2" height="1" fill="#C0C0C0"/><rect x="24" y="469" width="1" height="1" fill="#C0C0C0"/><rect x="25" y="470" width="3" height="1" fill="#C0C0C0"/><rect x="28" y="471" width="2" height="1" fill="#C0C0C0"/><rect x="30" y="470" width="3" height="1" fill="#C0C0C0"/><rect x="33" y="469" width="2" height="1" fill="#C0C0C0"/><rect x="35" y="468" width="1" height="1" fill="#C0C0C0"/><rect x="36" y="467" width="2" height="1" fill="#C0C0C0"/><rect x="38" y="466" width="1" height="1" fill="#C0C0C0"/><rect x="39" y="465" width="1" height="1" fill="#C0C0C0"/><rect x="40" y="464" width="1" height="1" fill="#C0C0C0"/><rect x="41" y="463" width="1" height="1" fill="#C0C0C0"/><rect x="42" y="462" width="1" height="1" fill="#C0C0C0"/><rect x="43" y="461" width="1" height="1" fill="#C0C0C0"/><rect x="44" y="460" width="1" height="1" fill="#C0C0C0"/><rect x="45" y="459" width="1" height="1" fill="#C0C0C0"/><rect x="46" y="458" width="1" height="1" fill="#C0C0C0"/><rect x="47" y="457" width="1" height="1" fill="#C0C0C0"/><rect x="47" y="456" width="1" height="1" fill="#C0C0C0"/><rect x="48" y="455" width="1" height="1" fill="#C0C0C0"/><rect x="49" y="454" width="1" height="1" fill="#C0C0C0"/><rect x="50" y="453" width="1" height="1" fill="#C0C0C0"/><rect x="51" y="452" width="1" height="1" fill="#C0C0C0"/><rect x="52" y="451" width="2" height="1" fill="#C0C0C0"/><rect x="54" y="450" width="1" height="1" fill="#C0C0C0"/><rect x="55" y="449" width="1" height="1" fill="#C0C0C0"/><rect x="56" y="448" width="1" height="1" fill="#C0C0C0"/><rect x="57" y="447" width="2" height="1" fill="#C0C0C0"/><rect x="59" y="446" width="2" height="1" fill="#C0C0C0"/><rect x="61" y="445" width="2" height="1" fill="#C0C0C0"/><rect x="63" y="444" width="18" height="1" fill="#C0C0C0"/><rect x="81" y="445" width="2" height="1" fill="#C0C0C0"/><rect x="83" y="446" width="1" height="1" fill="#C0C0C0"/><rect x="84" y="447" width="1" height="1" fill="#C0C0C0"/><rect x="85" y="448" width="2" height="1" fill="#C0C0C0"/><rect x="87" y="449" width="2" height="1" fill="#C0C0C0"/><rect x="89" y="450" width="2" height="1" fill="#C0C0C0"/><rect x="91" y="451" width="5" height="1" fill="#C0C0C0"/><rect x="96" y="452" width="1" height="1" fill="#C0C0C0"/><rect x="97" y="451" width="3" height="1" fill="#C0C0C0"/><rect x="100" y="450" width="2" height="1" fill="#C0C0C0"/><rect x="102" y="449" width="2" height="1" fill="#C0C0C0"/><rect x="104" y="448" width="1" height="1" fill="#C0C0C0"/><rect x="104" y="447" width="1" height="1" fill="#C0C0C0"/><rect x="105" y="446" width="1" height="1" fill="#C0C0C0"/><rect x="105" y="445" width="1" height="1" fill="#C0C0C0"/><rect x="106" y="444" width="1" height="1" fill="#C0C0C0"/><rect x="107" y="443" width="1" height="1" fill="#C0C0C0"/><rect x="107" y="442" width="1" height="1" fill="#C0C0C0"/><rect x="108" y="441" width="1" height="1" fill="#C0C0C0"/><rect x="109" y="440" width="1" height="1" fill="#C0C0C0"/><rect x="109" y="439" width="1" height="1" fill="#C0C0C0"/><rect x="110" y="437" width="1" height="2" fill="#C0C0C0"/><rect x="110" y="436" width="1" height="1" fill="#C0C0C0"/><rect x="111" y="435" width="1" height="1" fill="#C0C0C0"/><rect x="111" y="434" width="1" height="1" fill="#C0C0C0"/><rect x="112" y="432" width="1" height="2" fill="#C0C0C0"/><rect x="112" y="431" width="1" height="1" fill="#C0C0C0"/><rect x="113" y="429" width="1" height="2" fill="#C0C0C0"/><rect x="113" y="428" width="1" height="1" fill="#C0C0C0"/><rect x="114" y="426" width="1" height="2" fill="#C0C0C0"/><rect x="114" y="425" width="1" height="1" fill="#C0C0C0"/><rect x="115" y="422" width="1" height="3" fill="#C0C0C0"/><rect x="115" y="421" width="1" height="1" fill="#C0C0C0"/><rect x="116" y="420" width="1" height="1" fill="#C0C0C0"/><rect x="116" y="419" width="1" height="1" fill="#C0C0C0"/><rect x="117" y="417" width="1" height="2" fill="#C0C0C0"/><rect x="117" y="416" width="1" height="1" fill="#C0C0C0"/><rect x="118" y="415" width="1" height="1" fill="#C0C0C0"/><rect x="118" y="414" width="1" height="1" fill="#C0C0C0"/><rect x="119" y="412" width="1" height="2" fill="#C0C0C0"/><rect x="119" y="411" width="1" height="1" fill="#C0C0C0"/><rect x="120" y="410" width="1" height="1" fill="#C0C0C0"/><rect x="120" y="409" width="1" height="1" fill="#C0C0C0"/><rect x="121" y="407" width="1" height="2" fill="#C0C0C0"/><rect x="121" y="406" width="1" height="1" fill="#C0C0C0"/><rect x="122" y="404" width="1" height="2" fill="#C0C0C0"/><rect x="122" y="403" width="1" height="1" fill="#C0C0C0"/><rect x="123" y="402" width="1" height="1" fill="#C0C0C0"/><rect x="123" y="401" width="1" height="1" fill="#C0C0C0"/><rect x="124" y="399" width="1" height="2" fill="#C0C0C0"/><rect x="124" y="398" width="1" height="1" fill="#C0C0C0"/><rect x="125" y="397" width="1" height="1" fill="#C0C0C0"/><rect x="126" y="396" width="1" height="1" fill="#C0C0C0"/><rect x="126" y="395" width="1" height="1" fill="#C0C0C0"/><rect x="127" y="394" width="1" height="1" fill="#C0C0C0"/><rect x="127" y="393" width="1" height="1" fill="#C0C0C0"/><rect x="128" y="392" width="1" height="1" fill="#C0C0C0"/><rect x="129" y="391" width="1" height="1" fill="#C0C0C0"/><rect x="130" y="390" width="1" height="1" fill="#C0C0C0"/><rect x="130" y="389" width="1" height="1" fill="#C0C0C0"/><rect x="131" y="388" width="1" height="1" fill="#C0C0C0"/><rect x="132" y="387" width="1" height="1" fill="#C0C0C0"/><rect x="133" y="386" width="1" height="1" fill="#C0C0C0"/><rect x="134" y="385" width="1" height="1" fill="#C0C0C0"/><rect x="135" y="384" width="1" height="1" fill="#C0C0C0"/><rect x="136" y="383" width="1" height="1" fill="#C0C0C0"/><rect x="137" y="382" width="4" height="1" fill="#C0C0C0"/><rect x="141" y="381" width="4" height="1" fill="#C0C0C0"/><rect x="145" y="382" width="5" height="1" fill="#C0C0C0"/><rect x="150" y="383" width="2" height="1" fill="#C0C0C0"/><rect x="152" y="384" width="1" height="1" fill="#C0C0C0"/><rect x="153" y="385" width="2" height="1" fill="#C0C0C0"/><rect x="155" y="386" width="1" height="1" fill="#C0C0C0"/><rect x="156" y="387" width="1" height="1" fill="#C0C0C0"/><rect x="157" y="388" width="1" height="1" fill="#C0C0C0"/><rect x="158" y="389" width="1" height="1" fill="#C0C0C0"/><rect x="159" y="390" width="1" height="1" fill="#C0C0C0"/><rect x="160" y="391" width="1" height="1" fill="#C0C0C0"/><rect x="161" y="392" width="1" height="1" fill="#C0C0C0"/><rect x="162" y="393" width="1" height="1" fill="#C0C0C0"/><rect x="163" y="394" width="1" height="1" fill="#C0C0C0"/><rect x="164" y="395" width="1" height="1" fill="#C0C0C0"/><rect x="165" y="396" width="1" height="1" fill="#C0C0C0"/><rect x="166" y="397" width="2" height="1" fill="#C0C0C0"/><rect x="168" y="398" width="1" height="1" fill="#C0C0C0"/><rect x="169" y="399" width="1" height="1" fill="#C0C0C0"/><rect x="170" y="400" width="1" height="1" fill="#C0C0C0"/><rect x="171" y="401" width="1" height="1" fill="#C0C0C0"/><rect x="172" y="402" width="3" height="1" fill="#C0C0C0"/><rect x="175" y="403" width="2" height="1" fill="#C0C0C0"/><rect x="177" y="404" width="1" height="1" fill="#C0C0C0"/><rect x="178" y="405" width="2" height="1" fill="#C0C0C0"/><rect x="180" y="404" width="3" height="1" fill="#C0C0C0"/><rect x="183" y="403" width="5" height="1" fill="#C0C0C0"/><rect x="188" y="402" width="4" height="1" fill="#C0C0C0"/><rect x="192" y="401" width="2" height="1" fill="#C0C0C0"/><rect x="194" y="400" width="2" height="1" fill="#C0C0C0"/><rect x="196" y="399" width="2" height="1" fill="#C0C0C0"/><rect x="198" y="398" width="1" height="1" fill="#C0C0C0"/><rect x="199" y="397" width="1" height="1" fill="#C0C0C0"/><rect x="200" y="396" width="1" height="1" fill="#C0C0C0"/><rect x="201" y="395" width="1" height="1" fill="#C0C0C0"/><rect x="202" y="394" width="1" height="1" fill="#C0C0C0"/><rect x="203" y="393" width="1" height="1" fill="#C0C0C0"/><rect x="204" y="392" width="1" height="1" fill="#C0C0C0"/><rect x="205" y="391" width="1" height="1" fill="#C0C0C0"/><rect x="205" y="390" width="1" height="1" fill="#C0C0C0"/><rect x="206" y="389" width="1" height="1" fill="#C0C0C0"/><rect x="207" y="388" width="1" height="1" fill="#C0C0C0"/><rect x="208" y="387" width="1" height="1" fill="#C0C0C0"/><rect x="208" y="386" width="1" height="1" fill="#C0C0C0"/><rect x="209" y="385" width="1" height="1" fill="#C0C0C0"/><rect x="210" y="384" width="1" height="1" fill="#C0C0C0"/><rect x="210" y="383" width="1" height="1" fill="#C0C0C0"/><rect x="211" y="382" width="1" height="1" fill="#C0C0C0"/><rect x="212" y="381" width="1" height="1" fill="#C0C0C0"/><rect x="212" y="380" width="1" height="1" fill="#C0C0C0"/><rect x="213" y="379" width="1" height="1" fill="#C0C0C0"/><rect x="214" y="378" width="1" height="1" fill="#C0C0C0"/><rect x="214" y="377" width="1" height="1" fill="#C0C0C0"/><rect x="215" y="376" width="1" height="1" fill="#C0C0C0"/><rect x="216" y="375" width="1" height="1" fill="#C0C0C0"/><rect x="216" y="374" width="1" height="1" fill="#C0C0C0"/><rect x="217" y="373" width="1" height="1" fill="#C0C0C0"/><rect x="218" y="372" width="1" height="1" fill="#C0C0C0"/><rect x="219" y="371" width="1" height="1" fill="#C0C0C0"/><rect x="219" y="370" width="1" height="1" fill="#C0C0C0"/><rect x="220" y="369" width="1" height="1" fill="#C0C0C0"/><rect x="221" y="368" width="1" height="1" fill="#C0C0C0"/><rect x="222" y="367" width="2" height="1" fill="#C0C0C0"/><rect x="224" y="366" width="9" height="1" fill="#C0C0C0"/><rect x="233" y="367" width="3" height="1" fill="#C0C0C0"/><rect x="236" y="368" width="1" height="1" fill="#C0C0C0"/><rect x="237" y="369" width="1" height="1" fill="#C0C0C0"/><rect x="238" y="370" width="1" height="1" fill="#C0C0C0"/><rect x="239" y="371" width="1" height="1" fill="#C0C0C0"/><rect x="240" y="372" width="1" height="1" fill="#C0C0C0"/><rect x="241" y="373" width="2" height="1" fill="#C0C0C0"/><rect x="243" y="374" width="1" height="1" fill="#C0C0C0"/><rect x="244" y="375" width="1" height="1" fill="#C0C0C0"/><rect x="245" y="376" width="2" height="1" fill="#C0C0C0"/><rect x="247" y="377" width="1" height="1" fill="#C0C0C0"/><rect x="248" y="378" width="2" height="1" fill="#C0C0C0"/><rect x="250" y="379" width="1" height="1" fill="#C0C0C0"/><rect x="251" y="380" width="2" height="1" fill="#C0C0C0"/><rect x="253" y="381" width="5" height="1" fill="#C0C0C0"/><rect x="258" y="382" width="6" height="1" fill="#C0C0C0"/><rect x="264" y="383" width="1" height="1" fill="#C0C0C0"/><rect x="265" y="382" width="13" height="1" fill="#C0C0C0"/><rect x="278" y="381" width="14" height="1" fill="#C0C0C0"/><rect x="292" y="382" width="3" height="1" fill="#C0C0C0"/><rect x="295" y="383" width="1" height="1" fill="#C0C0C0"/><rect x="296" y="384" width="1" height="1" fill="#C0C0C0"/><rect x="297" y="385" width="1" height="1" fill="#C0C0C0"/><rect x="298" y="386" width="1" height="1" fill="#C0C0C0"/><rect x="298" y="387" width="1" height="1" fill="#C0C0C0"/><rect x="299" y="388" width="1" height="1" fill="#C0C0C0"/><rect x="300" y="389" width="1" height="1" fill="#C0C0C0"/><rect x="301" y="390" width="1" height="1" fill="#C0C0C0"/><rect x="301" y="391" width="1" height="1" fill="#C0C0C0"/><rect x="302" y="392" width="1" height="1" fill="#C0C0C0"/><rect x="303" y="393" width="1" height="1" fill="#C0C0C0"/><rect x="303" y="394" width="1" height="1" fill="#C0C0C0"/><rect x="304" y="395" width="1" height="1" fill="#C0C0C0"/><rect x="305" y="396" width="1" height="1" fill="#C0C0C0"/><rect x="305" y="397" width="1" height="1" fill="#C0C0C0"/><rect x="306" y="398" width="1" height="1" fill="#C0C0C0"/><rect x="306" y="399" width="1" height="1" fill="#C0C0C0"/><rect x="307" y="400" width="1" height="1" fill="#C0C0C0"/><rect x="307" y="401" width="1" height="1" fill="#C0C0C0"/><rect x="308" y="402" width="1" height="1" fill="#C0C0C0"/><rect x="309" y="403" width="1" height="1" fill="#C0C0C0"/><rect x="309" y="404" width="1" height="1" fill="#C0C0C0"/><rect x="310" y="405" width="1" height="1" fill="#C0C0C0"/><rect x="310" y="406" width="1" height="1" fill="#C0C0C0"/><rect x="311" y="407" width="1" height="1" fill="#C0C0C0"/><rect x="312" y="408" width="1" height="1" fill="#C0C0C0"/><rect x="312" y="409" width="1" height="1" fill="#C0C0C0"/><rect x="313" y="410" width="1" height="1" fill="#C0C0C0"/><rect x="313" y="411" width="1" height="1" fill="#C0C0C0"/><rect x="314" y="412" width="1" height="1" fill="#C0C0C0"/><rect x="315" y="413" width="1" height="1" fill="#C0C0C0"/><rect x="316" y="414" width="1" height="1" fill="#C0C0C0"/><rect x="317" y="415" width="1" height="1" fill="#C0C0C0"/><rect x="318" y="416" width="1" height="1" fill="#C0C0C0"/><rect x="319" y="417" width="1" height="1" fill="#C0C0C0"/><rect x="320" y="418" width="1" height="1" fill="#C0C0C0"/><rect x="321" y="419" width="2" height="1" fill="#C0C0C0"/><rect x="323" y="420" width="3" height="1" fill="#C0C0C0"/><rect x="326" y="421" width="3" height="1" fill="#C0C0C0"/><rect x="329" y="422" width="5" height="1" fill="#C0C0C0"/><rect x="334" y="423" width="6" height="1" fill="#C0C0C0"/><rect x="340" y="424" width="10" height="1" fill="#C0C0C0"/><rect x="350" y="425" width="14" height="1" fill="#C0C0C0"/><rect x="364" y="426" width="14" height="1" fill="#C0C0C0"/><rect x="378" y="427" width="6" height="1" fill="#C0C0C0"/><rect x="384" y="428" width="6" height="1" fill="#C0C0C0"/><rect x="390" y="429" width="3" height="1" fill="#C0C0C0"/><rect x="393" y="428" width="4" height="1" fill="#C0C0C0"/><rect x="397" y="427" width="4" height="1" fill="#C0C0C0"/><rect x="401" y="426" width="3" height="1" fill="#C0C0C0"/><rect x="404" y="425" width="3" height="1" fill="#C0C0C0"/><rect x="407" y="424" width="2" height="1" fill="#C0C0C0"/><rect x="409" y="423" width="3" height="1" fill="#C0C0C0"/><rect x="412" y="422" width="2" height="1" fill="#C0C0C0"/><rect x="414" y="421" width="3" height="1" fill="#C0C0C0"/><rect x="417" y="420" width="4" height="1" fill="#C0C0C0"/><rect x="421" y="419" width="7" height="1" fill="#C0C0C0"/><rect x="428" y="418" width="9" height="1" fill="#C0C0C0"/><rect x="437" y="417" width="6" height="1" fill="#C0C0C0"/><rect x="443" y="416" width="3" height="1" fill="#C0C0C0"/><rect x="446" y="415" width="2" height="1" fill="#C0C0C0"/><rect x="448" y="414" width="2" height="1" fill="#C0C0C0"/><rect x="450" y="413" width="2" height="1" fill="#C0C0C0"/><rect x="452" y="412" width="1" height="1" fill="#C0C0C0"/><rect x="453" y="411" width="2" height="1" fill="#C0C0C0"/><rect x="455" y="410" width="21" height="1" fill="#C0C0C0"/><rect x="476" y="409" width="16" height="1" fill="#C0C0C0"/><rect x="492" y="410" width="2" height="1" fill="#C0C0C0"/><rect x="494" y="411" width="2" height="1" fill="#C0C0C0"/><rect x="496" y="412" width="2" height="1" fill="#C0C0C0"/><rect x="498" y="413" width="2" height="1" fill="#C0C0C0"/><rect x="500" y="414" width="2" height="1" fill="#C0C0C0"/><rect x="502" y="415" width="3" height="1" fill="#C0C0C0"/><rect x="505" y="416" width="2" height="1" fill="#C0C0C0"/><rect x="507" y="417" width="2" height="1" fill="#C0C0C0"/><rect x="509" y="418" width="3" height="1" fill="#C0C0C0"/><rect x="512" y="419" width="5" height="1" fill="#C0C0C0"/><rect x="517" y="420" width="9" height="1" fill="#C0C0C0"/><rect x="526" y="421" width="4" height="1" fill="#C0C0C0"/><rect x="530" y="420" width="4" height="1" fill="#C0C0C0"/><rect x="534" y="419" width="6" height="1" fill="#C0C0C0"/><rect x="540" y="418" width="8" height="1" fill="#C0C0C0"/><rect x="548" y="417" width="2" height="1" fill="#C0C0C0"/><rect x="550" y="418" width="4" height="1" fill="#C0C0C0"/><rect x="554" y="419" width="2" height="1" fill="#C0C0C0"/><rect x="556" y="420" width="2" height="1" fill="#C0C0C0"/><rect x="558" y="421" width="1" height="1" fill="#C0C0C0"/><rect x="559" y="422" width="1" height="1" fill="#C0C0C0"/><rect x="560" y="423" width="1" height="1" fill="#C0C0C0"/><rect x="561" y="424" width="2" height="1" fill="#C0C0C0"/><rect x="563" y="425" width="2" height="1" fill="#C0C0C0"/><rect x="565" y="426" width="8" height="1" fill="#C0C0C0"/><rect x="573" y="425" width="2" height="1" fill="#C0C0C0"/><rect x="575" y="424" width="1" height="1" fill="#C0C0C0"/><rect x="576" y="423" width="1" height="1" fill="#C0C0C0"/><rect x="577" y="422" width="1" height="1" fill="#C0C0C0"/><rect x="578" y="421" width="1" height="1" fill="#C0C0C0"/><rect x="578" y="420" width="1" height="1" fill="#C0C0C0"/><rect x="579" y="419" width="1" height="1" fill="#C0C0C0"/><rect x="579" y="418" width="1" height="1" fill="#C0C0C0"/><rect x="580" y="417" width="1" height="1" fill="#C0C0C0"/><rect x="581" y="416" width="1" height="1" fill="#C0C0C0"/><rect x="581" y="415" width="1" height="1" fill="#C0C0C0"/><rect x="582" y="414" width="1" height="1" fill="#C0C0C0"/><rect x="582" y="413" width="1" height="1" fill="#C0C0C0"/><rect x="583" y="412" width="1" height="1" fill="#C0C0C0"/><rect x="583" y="411" width="1" height="1" fill="#C0C0C0"/><rect x="584" y="410" width="1" height="1" fill="#C0C0C0"/><rect x="584" y="409" width="1" height="1" fill="#C0C0C0"/><rect x="585" y="408" width="1" height="1" fill="#C0C0C0"/><rect x="585" y="407" width="1" height="1" fill="#C0C0C0"/><rect x="586" y="406" width="1" height="1" fill="#C0C0C0"/><rect x="586" y="405" width="1" height="1" fill="#C0C0C0"/><rect x="587" y="404" width="1" height="1" fill="#C0C0C0"/><rect x="587" y="403" width="1" height="1" fill="#C0C0C0"/><rect x="588" y="402" width="1" height="1" fill="#C0C0C0"/><rect x="588" y="401" width="1" height="1" fill="#C0C0C0"/><rect x="589" y="400" width="1" height="1" fill="#C0C0C0"/><rect x="589" y="399" width="1" height="1" fill="#C0C0C0"/><rect x="590" y="398" width="1" height="1" fill="#C0C0C0"/><rect x="590" y="397" width="1" height="1" fill="#C0C0C0"/><rect x="591" y="396" width="1" height="1" fill="#C0C0C0"/><rect x="591" y="395" width="1" height="1" fill="#C0C0C0"/><rect x="592" y="394" width="1" height="1" fill="#C0C0C0"/><rect x="593" y="393" width="1" height="1" fill="#C0C0C0"/><rect x="594" y="392" width="1" height="1" fill="#C0C0C0"/><rect x="595" y="391" width="1" height="1" fill="#C0C0C0"/><rect x="595" y="390" width="1" height="1" fill="#C0C0C0"/><rect x="596" y="389" width="2" height="1" fill="#C0C0C0"/><rect x="598" y="388" width="1" height="1" fill="#C0C0C0"/><rect x="599" y="387" width="2" height="1" fill="#C0C0C0"/><rect x="601" y="386" width="1" height="1" fill="#C0C0C0"/><rect x="602" y="387" width="3" height="1" fill="#C0C0C0"/><rect x="605" y="388" width="2" height="1" fill="#C0C0C0"/><rect x="607" y="389" width="1" height="1" fill="#C0C0C0"/><rect x="608" y="390" width="1" height="1" fill="#C0C0C0"/><rect x="609" y="391" width="2" height="1" fill="#C0C0C0"/><rect x="611" y="392" width="1" height="1" fill="#C0C0C0"/><rect x="612" y="393" width="1" height="1" fill="#C0C0C0"/><rect x="613" y="394" width="1" height="1" fill="#C0C0C0"/><rect x="614" y="395" width="1" height="1" fill="#C0C0C0"/><rect x="615" y="396" width="1" height="1" fill="#C0C0C0"/><rect x="616" y="397" width="1" height="1" fill="#C0C0C0"/><rect x="617" y="398" width="1" height="1" fill="#C0C0C0"/><rect x="618" y="399" width="1" height="1" fill="#C0C0C0"/><rect x="619" y="400" width="1" height="1" fill="#C0C0C0"/><rect x="620" y="401" width="1" height="1" fill="#C0C0C0"/><rect x="621" y="402" width="2" height="1" fill="#C0C0C0"/><rect x="623" y="403" width="2" height="1" fill="#C0C0C0"/><rect x="625" y="404" width="4" height="1" fill="#C0C0C0"/><rect x="629" y="405" width="18" height="1" fill="#C0C0C0"/><rect x="647" y="406" width="5" height="1" fill="#C0C0C0"/><rect x="652" y="407" width="3" height="1" fill="#C0C0C0"/><rect x="655" y="408" width="1" height="1" fill="#C0C0C0"/><rect x="656" y="409" width="1" height="1" fill="#C0C0C0"/><rect x="657" y="410" width="1" height="1" fill="#C0C0C0"/><rect x="658" y="411" width="1" height="1" fill="#C0C0C0"/><rect x="659" y="412" width="1" height="1" fill="#C0C0C0"/><rect x="660" y="413" width="2" height="1" fill="#C0C0C0"/><rect x="662" y="414" width="1" height="1" fill="#C0C0C0"/><rect x="663" y="415" width="1" height="1" fill="#C0C0C0"/><rect x="664" y="416" width="1" height="1" fill="#C0C0C0"/><rect x="665" y="417" width="2" height="1" fill="#C0C0C0"/></g>
<g shape-rendering="crispEdges">
<rect x="2" y="2" width="693" height="1" fill="#000"/>
<rect x="2" y="353" width="693" height="1" fill="#000"/>
<rect x="2" y="2" width="1" height="352" fill="#000"/>
<rect x="694" y="2" width="1" height="352" fill="#000"/>
<rect x="2" y="355" width="693" height="1" fill="#000"/>
<rect x="2" y="478" width="693" height="1" fill="#000"/>
<rect x="2" y="355" width="1" height="124" fill="#000"/>
<rect x="694" y="355" width="1" height="124" fill="#000"/>
<rect x="695" y="53" width="2" height="1" fill="#000"/>
<rect x="695" y="86" width="2" height="1" fill="#000"/>
<rect x="695" y="119" width="2" height="1" fill="#000"/>
<rect x="695" y="152" width="2" height="1" fill="#000"/>
<rect x="695" y="185" width="2" height="1" fill="#000"/>
<rect x="695" y="218" width="2" height="1" fill="#000"/>
<rect x="695" y="251" width="2" height="1" fill="#000"/>
<rect x="695" y="284" width="2" height="1" fill="#000"/>
<rect x="695" y="317" width="2" height="1" fill="#000"/>
<rect x="695" y="350" width="2" height="1" fill="#000"/>
<rect x="695" y="20" width="1" height="1" fill="#000"/>
<rect x="695" y="144" width="1" height="1" fill="#000"/>
<rect x="695" y="169" width="1" height="1" fill="#000"/>
<rect x="695" y="242" width="1" height="1" fill="#000"/>
<rect x="695" y="284" width="1" height="1" fill="#000"/>
<rect x="695" y="344" width="1" height="1" fill="#000"/>
<rect x="695" y="357" width="1" height="1" fill="#000"/>
<rect x="695" y="424" width="1" height="1" fill="#000"/>
<rect x="695" y="478" width="1" height="1" fill="#000"/>
<rect x="3" y="479" width="1" height="4" fill="#000"/>
<rect x="67" y="479" width="1" height="4" fill="#000"/>
<rect x="131" y="479" width="1" height="4" fill="#000"/>
<rect x="195" y="479" width="1" height="4" fill="#000"/>
<rect x="259" y="479" width="1" height="4" fill="#000"/>
<rect x="323" y="479" width="1" height="4" fill="#000"/>
<rect x="387" y="479" width="1" height="4" fill="#000"/>
<rect x="451" y="479" width="1" height="4" fill="#000"/>
<rect x="515" y="479" width="1" height="4" fill="#000"/>
<rect x="579" y="479" width="1" height="4" fill="#000"/>
<rect x="643" y="479" width="1" height="4" fill="#000"/>
<rect x="6" y="9" width="7" height="1" fill="#000"/><rect x="7" y="10" width="5" height="1" fill="#000"/><rect x="8" y="11" width="3" height="1" fill="#000"/><rect x="9" y="12" width="1" height="1" fill="#000"/>
</g>
<text x="700.3" y="57" textLength="32.6" lengthAdjust="spacingAndGlyphs">1.25570</text>
<text x="700.3" y="90" textLength="32.6" lengthAdjust="spacingAndGlyphs">1.25220</text>
<text x="700.3" y="123" textLength="32.6" lengthAdjust="spacingAndGlyphs">1.24880</text>
<text x="700.3" y="156" textLength="32.6" lengthAdjust="spacingAndGlyphs">1.24530</text>
<text x="700.3" y="189" textLength="32.6" lengthAdjust="spacingAndGlyphs">1.24180</text>
<text x="700.3" y="222" textLength="32.6" lengthAdjust="spacingAndGlyphs">1.23830</text>
<text x="700.3" y="255" textLength="32.6" lengthAdjust="spacingAndGlyphs">1.23490</text>
<text x="700.3" y="321" textLength="32.6" lengthAdjust="spacingAndGlyphs">1.22790</text>
<text x="700.3" y="354" textLength="32.6" lengthAdjust="spacingAndGlyphs">1.22450</text>
<g shape-rendering="crispEdges">
<rect x="696" y="14" width="41" height="11" fill="#FF0000"/>
<rect x="696" y="138" width="41" height="11" fill="#FF0000"/>
<rect x="696" y="163" width="41" height="11" fill="#FF0000"/>
<rect x="696" y="236" width="41" height="11" fill="#FF0000"/>
<rect x="696" y="278" width="41" height="11" fill="#FF0000"/>
<rect x="696" y="338" width="41" height="11" fill="#FF0000"/>
<rect x="696" y="70" width="41" height="11" fill="#000000"/>
</g>
<text class="w" x="700.3" y="23" textLength="32.6" lengthAdjust="spacingAndGlyphs">1.25919</text>
<text class="w" x="700.3" y="147" textLength="32.6" lengthAdjust="spacingAndGlyphs">1.24610</text>
<text class="w" x="700.3" y="172" textLength="32.6" lengthAdjust="spacingAndGlyphs">1.24345</text>
<text class="w" x="700.3" y="245" textLength="32.6" lengthAdjust="spacingAndGlyphs">1.23585</text>
<text class="w" x="700.3" y="287" textLength="32.6" lengthAdjust="spacingAndGlyphs">1.23139</text>
<text class="w" x="700.3" y="347" textLength="32.6" lengthAdjust="spacingAndGlyphs">1.22510</text>
<text class="w" x="700.3" y="79" textLength="32.6" lengthAdjust="spacingAndGlyphs">1.25339</text>
<text x="698" y="366" textLength="43" lengthAdjust="spacingAndGlyphs">0.0076134</text>
<text x="698" y="428" textLength="18" lengthAdjust="spacingAndGlyphs">0.00</text>
<text x="698" y="476" textLength="45.8" lengthAdjust="spacingAndGlyphs">-0.0060645</text>
<text x="18.6" y="14" textLength="52.3" lengthAdjust="spacingAndGlyphs">GBPUSD,H1</text>
<text x="78.8" y="14" textLength="31.7" lengthAdjust="spacingAndGlyphs">1.25334</text>
<text x="114.9" y="14" textLength="31.7" lengthAdjust="spacingAndGlyphs">1.25363</text>
<text x="151.0" y="14" textLength="31.7" lengthAdjust="spacingAndGlyphs">1.25276</text>
<text x="187.1" y="14" textLength="31.7" lengthAdjust="spacingAndGlyphs">1.25339</text>
<text x="7.6" y="368" textLength="84.4" lengthAdjust="spacingAndGlyphs">MACD_color(5,32,5)</text>
<text x="95.6" y="368" textLength="46" lengthAdjust="spacingAndGlyphs">0.00000000</text>
<text x="146.8" y="368" textLength="46" lengthAdjust="spacingAndGlyphs">0.00000000</text>
<text x="198.0" y="368" textLength="46" lengthAdjust="spacingAndGlyphs">0.00069531</text>
<text x="2" y="492" textLength="49.7" lengthAdjust="spacingAndGlyphs">29 Jun 2020</text>
<text x="66" y="492" textLength="52.7" lengthAdjust="spacingAndGlyphs">30 Jun 06:00</text>
<text x="130" y="492" textLength="52.7" lengthAdjust="spacingAndGlyphs">30 Jun 22:00</text>
<text x="194" y="492" textLength="44.2" lengthAdjust="spacingAndGlyphs">1 Jul 14:00</text>
<text x="258" y="492" textLength="44.7" lengthAdjust="spacingAndGlyphs">2 Jul 06:00</text>
<text x="322" y="492" textLength="44.7" lengthAdjust="spacingAndGlyphs">2 Jul 22:00</text>
<text x="386" y="492" textLength="44.7" lengthAdjust="spacingAndGlyphs">3 Jul 14:00</text>
<text x="450" y="492" textLength="44.7" lengthAdjust="spacingAndGlyphs">6 Jul 07:00</text>
<text x="514" y="492" textLength="44.7" lengthAdjust="spacingAndGlyphs">6 Jul 23:00</text>
<text x="578" y="492" textLength="44.7" lengthAdjust="spacingAndGlyphs">7 Jul 15:00</text>
<text x="642" y="492" textLength="44.7" lengthAdjust="spacingAndGlyphs">8 Jul 07:00</text>
</svg>
</body></html>
